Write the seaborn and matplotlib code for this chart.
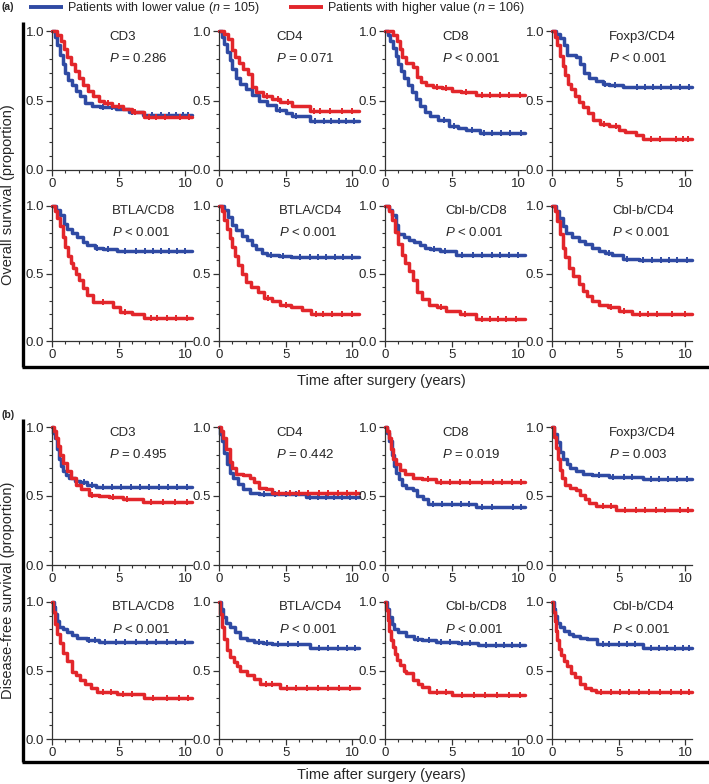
import numpy as np
import pandas as pd
import matplotlib
matplotlib.use("Agg")
import matplotlib.pyplot as plt
from matplotlib.lines import Line2D
from matplotlib.ticker import MultipleLocator
import seaborn as sns

sns.set_style("ticks")
plt.rcParams["font.family"] = ["Liberation Sans", "DejaVu Sans"]
plt.rcParams["mathtext.fontset"] = "custom"
plt.rcParams["mathtext.rm"] = "Liberation Sans"
plt.rcParams["mathtext.it"] = "Liberation Sans:italic"

BLUE = "#2f4aa3"
RED = "#e2262b"

markers = ["CD3", "CD4", "CD8", "Foxp3/CD4", "BTLA/CD8", "BTLA/CD4", "Cbl-b/CD8", "Cbl-b/CD4"]
os_p = ["= 0.286", "= 0.071", "< 0.001", "< 0.001", "< 0.001", "< 0.001", "< 0.001", "< 0.001"]
dfs_p = ["= 0.495", "= 0.442", "= 0.019", "= 0.003", "< 0.001", "< 0.001", "< 0.001", "< 0.001"]
group_labels = ["Patients with lower value ($n$ = 105)", "Patients with higher value ($n$ = 106)"]

# each curve: (step times, survival after step, censored times)
# ---- overall survival ----
os_cd3_lo = ([0, 0.2, 0.4, 0.6, 0.8, 1.0, 1.2, 1.5, 1.8, 2.1, 2.5, 3.0, 3.6, 4.8, 5.8, 6.8, 10.5],
             [1, 0.96, 0.90, 0.83, 0.76, 0.70, 0.65, 0.61, 0.57, 0.53, 0.48, 0.46, 0.45, 0.44, 0.415, 0.395, 0.395],
             [3.8, 4.5, 6.0, 7.5, 8.2, 8.8, 9.3, 9.8, 10.2])
os_cd3_hi = ([0, 0.4, 0.7, 0.9, 1.1, 1.4, 1.7, 2.0, 2.3, 2.7, 3.1, 3.5, 3.9, 4.5, 5.3, 6.0, 6.9, 10.5],
             [1, 0.97, 0.93, 0.87, 0.81, 0.76, 0.71, 0.66, 0.61, 0.57, 0.53, 0.50, 0.48, 0.46, 0.44, 0.42, 0.38, 0.38],
             [4.2, 5.0, 6.2, 7.3, 7.8, 8.5, 9.6, 10.3])
os_cd4_lo = ([0, 0.2, 0.4, 0.6, 0.8, 1.0, 1.3, 1.6, 2.0, 2.5, 3.0, 3.6, 4.3, 5.0, 5.5, 6.8, 10.5],
             [1, 0.96, 0.91, 0.85, 0.79, 0.73, 0.66, 0.62, 0.58, 0.54, 0.50, 0.47, 0.43, 0.41, 0.39, 0.355, 0.355],
             [4.6, 5.8, 7.2, 7.9, 8.4, 9.0, 9.5, 10.1])
os_cd4_hi = ([0, 0.4, 0.7, 1.0, 1.2, 1.5, 1.8, 2.2, 2.5, 2.8, 3.3, 4.0, 4.6, 5.5, 6.8, 10.5],
             [1, 0.98, 0.94, 0.86, 0.81, 0.77, 0.73, 0.69, 0.60, 0.56, 0.53, 0.51, 0.49, 0.46, 0.425, 0.425],
             [3.6, 4.4, 5.2, 7.1, 7.6, 8.3, 9.2, 10.0])
os_cd8_lo = ([0, 0.2, 0.4, 0.6, 0.8, 1.0, 1.2, 1.4, 1.7, 2.0, 2.3, 2.6, 3.0, 3.4, 4.0, 4.8, 5.5, 6.1, 7.1, 10.5],
             [1, 0.97, 0.93, 0.88, 0.82, 0.76, 0.71, 0.66, 0.61, 0.56, 0.51, 0.46, 0.42, 0.39, 0.36, 0.32, 0.30, 0.285, 0.265, 0.265],
             [4.4, 5.2, 6.5, 7.4, 8.0, 8.7, 9.4, 10.2])
os_cd8_hi = ([0, 0.6, 0.9, 1.1, 1.3, 1.6, 2.1, 2.4, 2.7, 3.1, 3.6, 4.3, 5.0, 5.7, 6.8, 10.5],
             [1, 0.97, 0.93, 0.87, 0.81, 0.77, 0.74, 0.67, 0.63, 0.61, 0.60, 0.59, 0.57, 0.56, 0.54, 0.54],
             [3.9, 4.6, 6.1, 7.3, 7.9, 8.6, 9.3, 10.1])
os_foxp3_lo = ([0, 0.3, 0.6, 0.9, 1.1, 1.8, 2.1, 2.4, 2.8, 3.3, 3.8, 4.3, 5.3, 10.5],
               [1, 0.98, 0.95, 0.90, 0.83, 0.81, 0.76, 0.70, 0.66, 0.64, 0.62, 0.61, 0.60, 0.60],
               [4.0, 4.7, 6.4, 7.0, 7.6, 8.2, 8.9, 9.6, 10.3])
os_foxp3_hi = ([0, 0.2, 0.4, 0.6, 0.8, 1.0, 1.2, 1.4, 1.7, 2.0, 2.3, 2.7, 3.1, 3.6, 4.3, 5.0, 5.5, 6.3, 6.8, 10.5],
               [1, 0.96, 0.90, 0.82, 0.75, 0.68, 0.62, 0.58, 0.53, 0.49, 0.45, 0.41, 0.36, 0.33, 0.32, 0.29, 0.27, 0.25, 0.22, 0.22],
               [3.9, 4.8, 7.4, 8.1, 9.3, 9.8, 10.2])
os_btla8_lo = ([0, 0.3, 0.6, 0.9, 1.1, 1.5, 1.9, 2.3, 2.6, 3.2, 3.8, 4.9, 10.5],
               [1, 0.97, 0.93, 0.87, 0.83, 0.80, 0.77, 0.73, 0.71, 0.69, 0.68, 0.665, 0.665],
               [3.4, 4.2, 5.5, 6.3, 7.0, 7.6, 8.2, 8.8, 9.4, 10.0])
os_btla8_hi = ([0, 0.2, 0.4, 0.6, 0.8, 1.0, 1.2, 1.4, 1.6, 1.8, 2.0, 2.3, 2.6, 3.1, 4.6, 5.1, 6.0, 6.9, 10.5],
               [1, 0.96, 0.91, 0.85, 0.77, 0.70, 0.63, 0.58, 0.54, 0.50, 0.45, 0.39, 0.34, 0.29, 0.25, 0.215, 0.20, 0.17, 0.17],
               [3.8, 5.5, 7.4, 7.9, 8.6, 9.3, 10.1])
os_btla4_lo = ([0, 0.4, 0.7, 1.0, 1.3, 1.7, 2.1, 2.5, 2.8, 3.2, 3.6, 4.5, 5.4, 10.5],
               [1, 0.97, 0.92, 0.86, 0.82, 0.78, 0.75, 0.71, 0.68, 0.65, 0.64, 0.63, 0.62, 0.62],
               [3.9, 4.8, 6.1, 6.8, 7.4, 8.0, 8.7, 9.3, 10.0])
os_btla4_hi = ([0, 0.2, 0.4, 0.6, 0.8, 1.0, 1.2, 1.4, 1.7, 2.0, 2.4, 2.9, 3.4, 4.0, 4.6, 5.4, 6.2, 6.9, 10.5],
               [1, 0.96, 0.90, 0.83, 0.76, 0.70, 0.63, 0.56, 0.50, 0.44, 0.40, 0.36, 0.32, 0.30, 0.27, 0.25, 0.23, 0.20, 0.20],
               [3.7, 5.0, 7.3, 7.8, 8.5, 9.2, 10.0])
os_cblb8_lo = ([0, 0.3, 0.5, 0.8, 1.0, 1.4, 1.8, 2.2, 2.6, 3.0, 3.4, 4.1, 5.3, 10.5],
               [1, 0.97, 0.93, 0.86, 0.79, 0.77, 0.75, 0.73, 0.71, 0.69, 0.68, 0.67, 0.64, 0.64],
               [3.7, 4.5, 5.8, 6.6, 7.3, 8.0, 8.6, 9.3, 10.0])
os_cblb8_hi = ([0, 0.3, 0.5, 0.75, 1.0, 1.25, 1.5, 1.8, 2.1, 2.4, 2.8, 3.3, 3.9, 4.6, 5.6, 6.8, 10.5],
               [1, 0.96, 0.90, 0.81, 0.72, 0.64, 0.58, 0.52, 0.45, 0.36, 0.31, 0.27, 0.25, 0.22, 0.20, 0.165, 0.165],
               [4.2, 6.0, 7.3, 7.9, 8.5, 9.1, 9.8])
os_cblb4_lo = ([0, 0.3, 0.55, 0.8, 1.05, 1.5, 2.0, 2.5, 3.0, 3.5, 4.0, 4.5, 5.3, 6.5, 10.5],
               [1, 0.96, 0.91, 0.85, 0.80, 0.77, 0.74, 0.72, 0.69, 0.67, 0.65, 0.64, 0.61, 0.60, 0.60],
               [4.3, 5.6, 6.8, 7.5, 8.2, 8.8, 9.4, 10.1])
os_cblb4_hi = ([0, 0.2, 0.4, 0.6, 0.8, 1.0, 1.3, 1.6, 2.0, 2.3, 2.6, 3.0, 3.5, 4.2, 5.0, 6.0, 10.5],
               [1, 0.96, 0.89, 0.79, 0.69, 0.62, 0.54, 0.48, 0.42, 0.37, 0.33, 0.30, 0.27, 0.25, 0.22, 0.20, 0.20],
               [4.4, 5.4, 6.6, 7.2, 7.9, 9.0, 10.0])

# ---- disease-free survival ----
dfs_cd3_lo = ([0, 0.1, 0.2, 0.35, 0.5, 0.65, 0.85, 1.05, 1.3, 1.7, 2.1, 2.6, 3.3, 10.5],
              [1, 0.96, 0.92, 0.84, 0.77, 0.72, 0.68, 0.65, 0.63, 0.61, 0.60, 0.58, 0.565, 0.565],
              [2.4, 3.0, 3.8, 4.5, 5.2, 5.9, 6.6, 7.3, 8.0, 8.7, 9.4, 10.1])
dfs_cd3_hi = ([0, 0.15, 0.3, 0.45, 0.6, 0.8, 1.1, 1.4, 1.8, 2.2, 2.8, 3.5, 4.3, 5.3, 6.8, 10.5],
              [1, 0.97, 0.92, 0.86, 0.80, 0.74, 0.68, 0.63, 0.58, 0.55, 0.51, 0.50, 0.49, 0.48, 0.455, 0.455],
              [3.0, 4.6, 5.6, 7.4, 8.3, 9.2, 10.1])
dfs_cd4_lo = ([0, 0.1, 0.2, 0.35, 0.6, 0.8, 1.05, 1.4, 1.8, 2.3, 3.0, 6.5, 10.5],
              [1, 0.95, 0.90, 0.81, 0.73, 0.67, 0.63, 0.59, 0.55, 0.52, 0.515, 0.495, 0.495],
              [3.4, 4.2, 5.0, 5.8, 6.8, 7.4, 8.0, 8.6, 9.2, 9.8, 10.3])
dfs_cd4_hi = ([0, 0.15, 0.3, 0.5, 0.8, 1.0, 1.3, 1.8, 2.3, 2.6, 3.0, 3.5, 4.0, 10.5],
              [1, 0.97, 0.92, 0.84, 0.75, 0.70, 0.66, 0.65, 0.63, 0.60, 0.56, 0.55, 0.525, 0.525],
              [4.5, 5.3, 6.0, 6.7, 7.5, 8.2, 8.9, 9.6, 10.3])
dfs_cd8_lo = ([0, 0.15, 0.3, 0.5, 0.7, 0.85, 1.05, 1.25, 1.6, 2.1, 2.4, 2.85, 3.2, 6.8, 10.5],
              [1, 0.96, 0.90, 0.80, 0.72, 0.67, 0.62, 0.58, 0.56, 0.54, 0.50, 0.48, 0.44, 0.42, 0.42],
              [3.6, 4.3, 5.0, 5.7, 6.3, 7.3, 8.0, 9.6, 10.2])
dfs_cd8_hi = ([0, 0.15, 0.3, 0.45, 0.6, 0.8, 1.1, 1.5, 2.1, 2.8, 3.8, 10.5],
              [1, 0.97, 0.92, 0.84, 0.77, 0.73, 0.69, 0.66, 0.63, 0.62, 0.60, 0.60],
              [3.2, 4.2, 4.9, 5.6, 6.4, 7.3, 8.1, 8.8, 9.5, 10.2])
dfs_foxp3_lo = ([0, 0.15, 0.35, 0.6, 0.85, 1.1, 1.35, 1.8, 2.3, 3.0, 4.3, 6.8, 10.5],
                [1, 0.95, 0.89, 0.82, 0.77, 0.73, 0.70, 0.68, 0.66, 0.65, 0.64, 0.62, 0.62],
                [3.5, 4.6, 5.4, 6.0, 7.4, 8.0, 8.7, 9.4, 10.1])
dfs_foxp3_hi = ([0, 0.15, 0.3, 0.45, 0.6, 0.75, 1.0, 1.35, 1.8, 2.1, 2.5, 2.8, 3.3, 4.8, 10.5],
                [1, 0.93, 0.85, 0.77, 0.69, 0.63, 0.58, 0.56, 0.54, 0.51, 0.48, 0.45, 0.43, 0.40, 0.40],
                [3.8, 4.4, 5.5, 6.3, 7.0, 7.8, 8.5, 9.6, 10.2])
dfs_btla8_lo = ([0, 0.15, 0.25, 0.4, 0.5, 0.8, 1.1, 1.5, 1.9, 2.6, 3.5, 10.5],
                [1, 0.96, 0.91, 0.86, 0.82, 0.80, 0.78, 0.76, 0.74, 0.72, 0.71, 0.71],
                [2.8, 3.2, 4.0, 4.8, 5.5, 6.3, 7.1, 7.8, 8.6, 9.3, 10.0])
dfs_btla8_hi = ([0, 0.1, 0.25, 0.4, 0.6, 0.8, 1.1, 1.5, 1.8, 2.1, 2.5, 2.9, 3.4, 4.9, 6.9, 10.5],
                [1, 0.93, 0.84, 0.77, 0.70, 0.63, 0.57, 0.49, 0.47, 0.43, 0.40, 0.37, 0.34, 0.33, 0.30, 0.30],
                [3.8, 4.4, 5.3, 6.0, 7.6, 8.6, 9.5, 10.2])
dfs_btla4_lo = ([0, 0.15, 0.3, 0.5, 0.8, 1.2, 1.6, 2.1, 2.6, 3.3, 4.0, 6.8, 10.5],
                [1, 0.95, 0.89, 0.85, 0.82, 0.78, 0.74, 0.72, 0.71, 0.70, 0.69, 0.665, 0.665],
                [3.0, 3.6, 4.4, 5.2, 5.9, 7.5, 8.2, 8.9, 9.6, 10.2])
dfs_btla4_hi = ([0, 0.1, 0.2, 0.35, 0.6, 0.85, 1.1, 1.35, 1.6, 2.1, 2.6, 3.1, 4.6, 10.5],
                [1, 0.91, 0.82, 0.73, 0.65, 0.60, 0.56, 0.53, 0.50, 0.47, 0.44, 0.40, 0.37, 0.37],
                [3.5, 4.0, 5.1, 5.8, 6.6, 7.4, 8.2, 9.0, 9.8])
dfs_cblb8_lo = ([0, 0.15, 0.3, 0.5, 0.7, 1.0, 1.6, 2.2, 2.8, 3.8, 5.5, 7.0, 10.5],
                [1, 0.95, 0.89, 0.84, 0.80, 0.78, 0.75, 0.73, 0.72, 0.71, 0.70, 0.685, 0.685],
                [2.5, 3.3, 4.2, 4.9, 5.8, 6.4, 7.6, 8.3, 8.9, 9.5, 10.1])
dfs_cblb8_hi = ([0, 0.1, 0.2, 0.3, 0.45, 0.6, 0.75, 0.9, 1.1, 1.4, 1.6, 2.1, 2.5, 2.8, 3.3, 5.0, 10.5],
                [1, 0.94, 0.87, 0.79, 0.72, 0.67, 0.62, 0.58, 0.54, 0.50, 0.48, 0.43, 0.40, 0.38, 0.34, 0.32, 0.32],
                [3.9, 4.6, 5.8, 6.7, 7.5, 8.4, 9.3, 10.1])
dfs_cblb4_lo = ([0, 0.15, 0.25, 0.4, 0.6, 0.9, 1.3, 1.6, 2.1, 2.6, 3.4, 4.5, 6.8, 10.5],
                [1, 0.95, 0.90, 0.85, 0.82, 0.79, 0.77, 0.75, 0.74, 0.73, 0.69, 0.69, 0.665, 0.665],
                [3.8, 4.3, 5.0, 5.6, 6.2, 7.4, 8.0, 8.6, 9.2, 9.8, 10.3])
dfs_cblb4_hi = ([0, 0.1, 0.2, 0.3, 0.4, 0.55, 0.7, 0.9, 1.1, 1.4, 1.7, 2.1, 2.5, 2.9, 3.3, 10.5],
                [1, 0.93, 0.86, 0.79, 0.72, 0.66, 0.61, 0.57, 0.53, 0.48, 0.45, 0.40, 0.37, 0.355, 0.34, 0.34],
                [3.7, 4.4, 5.1, 5.8, 6.5, 7.3, 8.1, 8.9, 9.7, 10.3])

os_curves = [(os_cd3_lo, os_cd3_hi), (os_cd4_lo, os_cd4_hi), (os_cd8_lo, os_cd8_hi),
             (os_foxp3_lo, os_foxp3_hi), (os_btla8_lo, os_btla8_hi), (os_btla4_lo, os_btla4_hi),
             (os_cblb8_lo, os_cblb8_hi), (os_cblb4_lo, os_cblb4_hi)]
dfs_curves = [(dfs_cd3_lo, dfs_cd3_hi), (dfs_cd4_lo, dfs_cd4_hi), (dfs_cd8_lo, dfs_cd8_hi),
              (dfs_foxp3_lo, dfs_foxp3_hi), (dfs_btla8_lo, dfs_btla8_hi), (dfs_btla4_lo, dfs_btla4_hi),
              (dfs_cblb8_lo, dfs_cblb8_hi), (dfs_cblb4_lo, dfs_cblb4_hi)]

W, H = 709, 784
fig = plt.figure(figsize=(W / 100, H / 100), dpi=100)


def add_px_axes(x0, y_top, y_bot, w=140):
    return fig.add_axes([x0 / W, 1 - y_bot / H, w / W, (y_bot - y_top) / H])


def draw_curve(ax, curve, color):
    t, s, cens = curve
    df = pd.DataFrame({"time": t, "surv": s})
    sns.lineplot(data=df, x="time", y="surv", color=color, lw=2.5, drawstyle="steps-post",
                 estimator=None, sort=False, ax=ax, clip_on=False)
    idx = np.searchsorted(t, cens, side="right") - 1
    ax.plot(cens, np.asarray(s)[idx], ls="none", marker="|", ms=5, mew=1.4,
            color=color, clip_on=False)


def style_axes(ax):
    ax.set_xlim(0, 10.5)
    ax.set_ylim(0, 1)
    ax.set_xticks([0, 5, 10])
    ax.set_xticklabels(["0", "5", "10"])
    ax.set_yticks([0, 0.5, 1.0])
    ax.set_yticklabels(["0.0", "0.5", "1.0"])
    ax.xaxis.set_minor_locator(MultipleLocator(1))
    ax.yaxis.set_minor_locator(MultipleLocator(0.1))
    ax.tick_params(which="major", length=4, width=0.9, labelsize=9.5, pad=1.5, color="#333333")
    ax.tick_params(which="minor", length=2.5, width=0.8, color="#333333")
    for side in ["top", "right"]:
        ax.spines[side].set_visible(False)
    for side in ["left", "bottom"]:
        ax.spines[side].set_linewidth(0.9)
        ax.spines[side].set_color("#333333")
    ax.set_xlabel("")
    ax.set_ylabel("")


col_x = [52, 219, 385, 552]
panels = [
    ("(a)", "Overall survival (proportion)", os_curves, os_p, [(31, 170), (206, 341)], 22, 367, 381, 7),
    ("(b)", "Disease-free survival (proportion)", dfs_curves, dfs_p, [(427, 565), (602, 739)], 419, 762, 775, 415),
]

for tag, ylab, curves, pvals, rows, br_top, br_bot, xlab_y, tag_y in panels:
    for i in range(8):
        r, c = divmod(i, 4)
        ax = add_px_axes(col_x[c], rows[r][0], rows[r][1])
        lo, hi = curves[i]
        draw_curve(ax, lo, BLUE)
        draw_curve(ax, hi, RED)
        style_axes(ax)
        tx = 4.3 if r == 0 else 4.5
        ax.text(tx, 0.96, markers[i], fontsize=9.5, va="center", ha="left")
        ax.text(tx, 0.80, "$P$ " + pvals[i], fontsize=9.5, va="center", ha="left")

    # bracket around the grid
    fig.add_artist(Line2D([23 / W, 23 / W], [1 - br_top / H, 1 - br_bot / H],
                          color="black", lw=2.4, solid_capstyle="butt", transform=fig.transFigure))
    fig.add_artist(Line2D([22 / W, 1.0], [1 - br_bot / H, 1 - br_bot / H],
                          color="black", lw=2.4, solid_capstyle="butt", transform=fig.transFigure))
    fig.text(381 / W, 1 - xlab_y / H, "Time after surgery (years)", fontsize=10.5,
             ha="center", va="center")
    fig.text(8 / W, 1 - (br_top + br_bot) / 2 / H, ylab, fontsize=10.5, rotation=90,
             ha="center", va="center")
    fig.text(1 / W, 1 - tag_y / H, tag, fontsize=7.5, fontweight="bold", ha="left", va="center")

# legend across the top
for x0, x1, color, label in [(29, 63, BLUE, group_labels[0]), (289, 323, RED, group_labels[1])]:
    fig.add_artist(Line2D([x0 / W, x1 / W], [1 - 7 / H, 1 - 7 / H], color=color, lw=2.8,
                          solid_capstyle="butt", transform=fig.transFigure))
    fig.text((x1 + 4) / W, 1 - 7.5 / H, label, fontsize=9, ha="left", va="center")

fig.savefig("out.png", dpi=100)
